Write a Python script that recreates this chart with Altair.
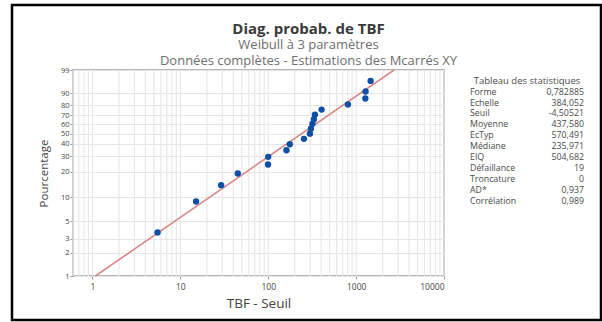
import math
import altair as alt
import pandas as pd

# Failure times with the threshold removed (TBF - Seuil), in rank order
tbf_minus_seuil = [5.5, 15.1, 29.1, 45.0, 99.5, 100.0, 161.0, 176.0, 255.0,
                   298.0, 306.0, 318.0, 331.0, 340.0, 405.0, 807.0, 1273.0,
                   1282.0, 1462.0]
# Plotting positions (median ranks), in percent
pourcentage = [3.6, 8.8, 13.9, 19.1, 24.2, 29.4, 34.5, 39.7, 44.8, 50.0,
               55.2, 60.3, 65.5, 70.6, 75.8, 80.9, 86.1, 91.2, 96.4]

# Fitted 3-parameter Weibull
forme = 0.782885
echelle = 384.052

# Statistics table
stat_labels = ["Forme", "Echelle", "Seuil", "Moyenne", "EcTyp", "Médiane",
               "EIQ", "Défaillance", "Troncature", "AD*", "Corrélation"]
stat_values = ["0,782885", "384,052", "-4,50521", "437,580", "570,491",
               "235,971", "504,682", "19", "0", "0,937", "0,989"]

# Axis ticks
x_major = [1, 10, 100, 1000, 10000]
y_ticks = [1, 2, 3, 5, 10, 20, 30, 40, 50, 60, 70, 80, 90, 99]
x_domain = [0.6, 10000]

FONT = "Open Sans"


def weibull_y(p):
    """Weibull probability-paper coordinate for a percentage."""
    return math.log(-math.log(1 - p / 100.0))


y_domain = [weibull_y(1), weibull_y(99)]
y_values = [weibull_y(t) for t in y_ticks]

# Vertical log grid: 1..9 in each decade
x_grid = sorted({k * 10 ** e for e in range(-1, 4) for k in range(1, 10)
                 if x_domain[0] <= k * 10 ** e <= x_domain[1]} | {10000})

points = pd.DataFrame({"x": tbf_minus_seuil, "pct": pourcentage})
line_pct = [1, 99]
fit = pd.DataFrame({
    "pct": line_pct,
    "x": [echelle * (-math.log(1 - p / 100.0)) ** (1 / forme) for p in line_pct],
})
grid = pd.DataFrame({"x": x_grid})

x_scale = alt.Scale(type="log", domain=x_domain, nice=False)
y_scale = alt.Scale(domain=y_domain, nice=False, zero=False)

x_axis = alt.Axis(values=x_major, format="d", grid=False, title="TBF - Seuil",
                  domain=False, tickSize=3, tickColor="#9a9a9a",
                  labelFontSize=8.5, labelColor="#444444", labelPadding=3,
                  titleFontSize=13.5, titleFontWeight="normal",
                  titleColor="#444444", titlePadding=6)
y_axis = alt.Axis(values=y_values,
                  labelExpr="format(100 * (1 - exp(-exp(datum.value))), '.0f')",
                  grid=True, gridColor="#e6e6e6", gridWidth=1.2,
                  title="Pourcentage", domain=False, tickSize=3,
                  tickColor="#9a9a9a", labelFontSize=7.5, labelColor="#444444",
                  labelPadding=1, labelOverlap=False, labelFlush=False,
                  titleFontSize=11.5, titleFontWeight="normal",
                  titleColor="#444444", titlePadding=11)

wy = "log(-log(1 - datum.pct / 100))"

vgrid = alt.Chart(grid).mark_rule(color="#e8e8e8", strokeWidth=1.2).encode(
    x=alt.X("x:Q", scale=x_scale, axis=x_axis)
)

fit_line = alt.Chart(fit).transform_calculate(w=wy).mark_line(
    color="#d98a86", strokeWidth=1.6
).encode(
    x=alt.X("x:Q", scale=x_scale, axis=x_axis),
    y=alt.Y("w:Q", scale=y_scale, axis=y_axis),
)

dots = alt.Chart(points).transform_calculate(w=wy).mark_point(
    filled=True, shape="circle", size=40, color="#0d4fa6", opacity=1
).encode(
    x=alt.X("x:Q", scale=x_scale, axis=x_axis),
    y=alt.Y("w:Q", scale=y_scale, axis=y_axis),
)

one = pd.DataFrame({"k": [0]})
table_style = dict(font=FONT, color="#4a4a4a", baseline="middle",
                   lineHeight=10.9)

table_title = alt.Chart(one).mark_text(
    align="center", fontSize=9.5, **table_style
).encode(
    x=alt.value(454), y=alt.value(10.5), text=alt.value("Tableau des statistiques")
)
table_labels = alt.Chart(one).mark_text(
    align="left", fontSize=8.8, **table_style
).encode(
    x=alt.value(397), y=alt.value(21.7), text=alt.value(stat_labels)
)
table_values = alt.Chart(one).mark_text(
    align="right", fontSize=8.8, **table_style
).encode(
    x=alt.value(511), y=alt.value(21.7), text=alt.value(stat_values)
)

frame = alt.Chart(one).mark_rect(
    fill=None, fillOpacity=0, stroke="#000000", strokeWidth=2.5
).encode(
    x=alt.value(-61), x2=alt.value(528), y=alt.value(-65), y2=alt.value(250)
)

chart = alt.layer(
    vgrid, fit_line, dots, table_title, table_labels, table_values, frame
).properties(
    width=371,
    height=206,
    autosize=alt.AutoSizeParams(type="none"),
    padding={"left": 73, "top": 70, "right": 158, "bottom": 46},
    title=alt.TitleParams(
        text="Diag. probab. de TBF",
        subtitle=["Weibull à 3 paramètres",
                  "Données complètes - Estimations des Mcarrés XY"],
        anchor="middle", frame="group", dx=50, dy=68, offset=4,
        font=FONT, fontSize=15, fontWeight="bold", color="#3a3a3a",
        subtitleFont=FONT, subtitleFontSize=13, subtitleColor="#6e6e6e",
        subtitlePadding=2, subtitleLineHeight=16,
    ),
).configure(
    font=FONT, background="white"
).configure_view(
    stroke="#b4b4b4", strokeWidth=2
).configure_axis(
    labelFont=FONT, titleFont=FONT
)

chart.save("out.html", embed_options={"renderer": "svg", "actions": False})
